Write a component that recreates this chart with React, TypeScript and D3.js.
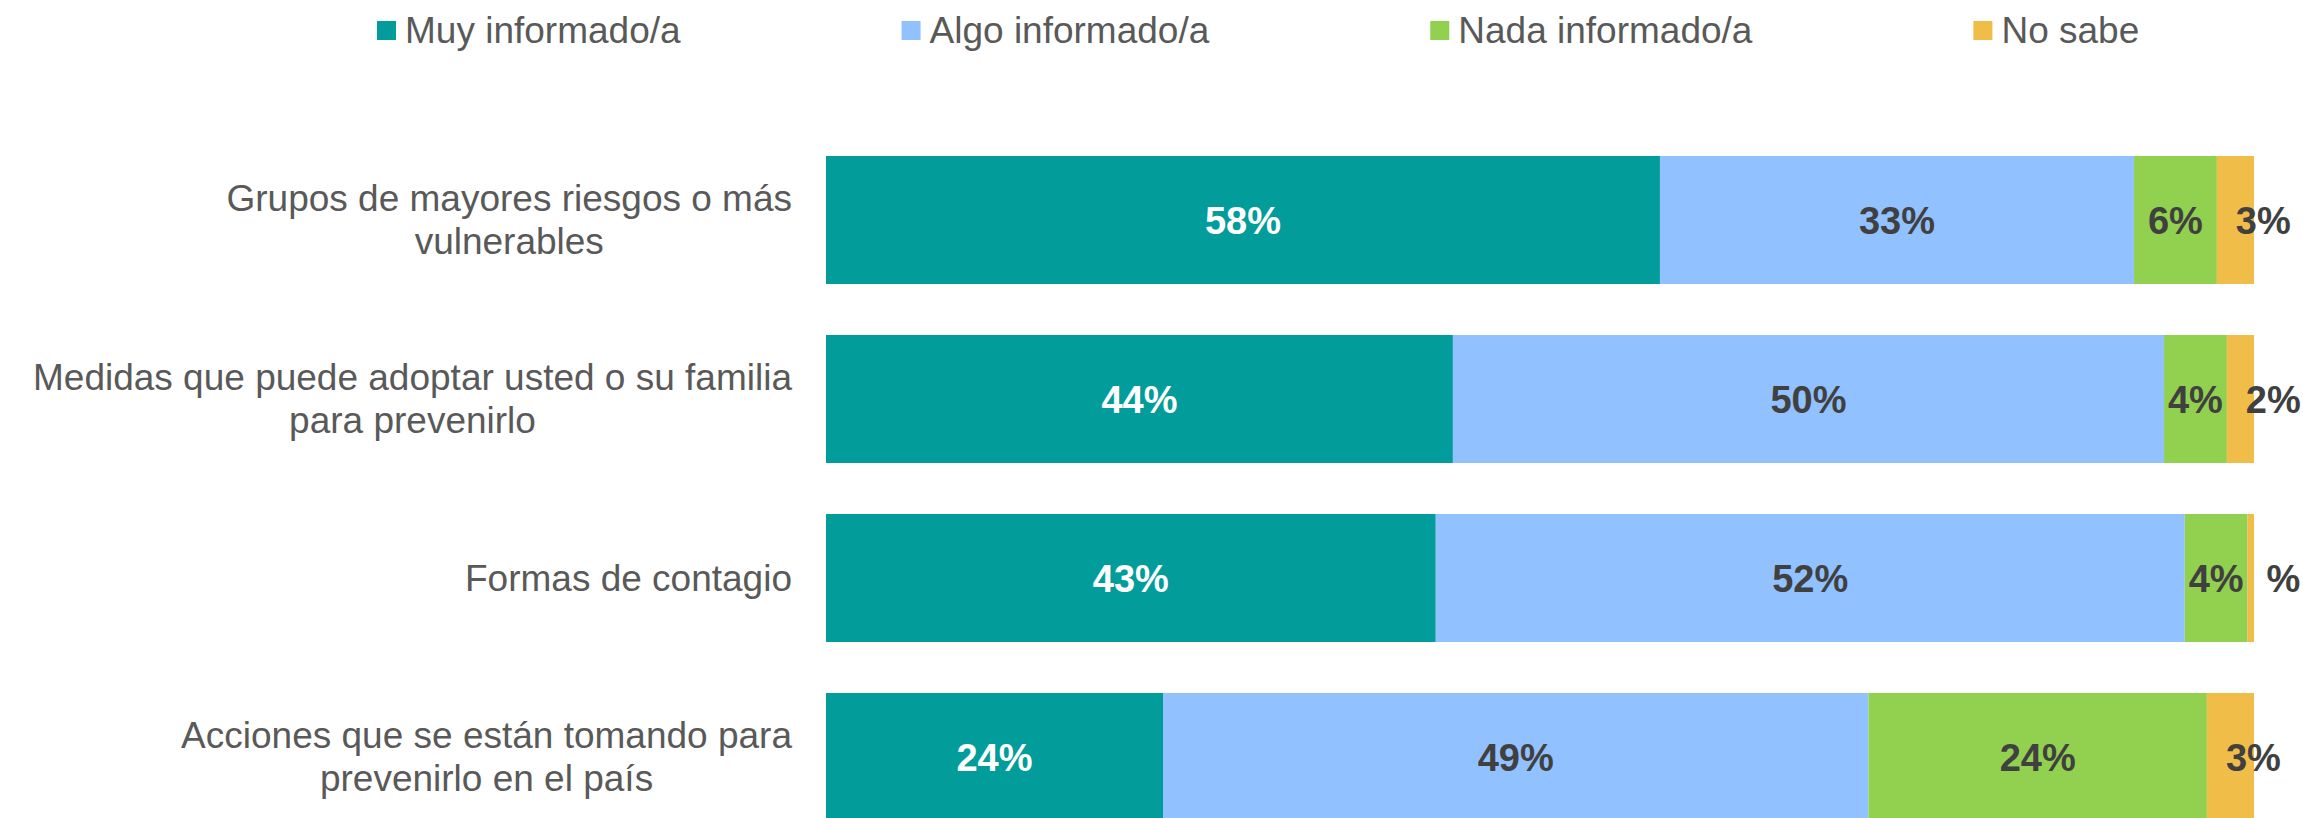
import React, { useEffect, useMemo } from 'react';
import * as d3 from 'd3';

const categoryLines: string[][] = [
  ['Grupos de mayores riesgos o más', 'vulnerables'],
  ['Medidas que puede adoptar usted o su familia', 'para prevenirlo'],
  ['Formas de contagio'],
  ['Acciones que se están tomando para', 'prevenirlo en el país'],
];
const categories = categoryLines.map((l) => l.join(' '));

const seriesNames = ['Muy informado/a', 'Algo informado/a', 'Nada informado/a', 'No sabe'];
const muyInformado = [58.4, 43.9, 42.7, 23.6];
const algoInformado = [33.2, 49.8, 52.45, 49.4];
const nadaInformado = [5.8, 4.4, 4.4, 23.7];
const noSabe = [2.6, 1.9, 0.45, 3.3];
const seriesColors = ['#029C9A', '#92C1FF', '#92D050', '#F0BD48'];
const labelColors = ['#FFFFFF', '#404040', '#404040', '#404040'];

const W = 2303;
const H = 818;
const FONT = "'Liberation Sans', Arial, sans-serif";
const FS = 37;
const LABEL_FS = 38;

export default function App() {
  useEffect(() => {
    document.body.style.margin = '0';
  }, []);

  const rows = categories.map((c, i) => ({
    cat: c,
    [seriesNames[0]]: muyInformado[i],
    [seriesNames[1]]: algoInformado[i],
    [seriesNames[2]]: nadaInformado[i],
    [seriesNames[3]]: noSabe[i],
  }));
  const stacked = d3.stack<any>().keys(seriesNames)(rows);

  const x = d3.scaleLinear().domain([0, 100]).range([826, 2254]);
  const y = d3
    .scaleBand<string>()
    .domain(categories)
    .range([130.5, 846.5])
    .paddingInner(0.285)
    .paddingOuter(0.1425);
  const bw = y.bandwidth();

  const measure = useMemo(() => {
    const cv = document.createElement('canvas');
    const ctx = cv.getContext('2d')!;
    ctx.font = `${FS}px ${FONT}`;
    return (s: string) => ctx.measureText(s).width;
  }, []);

  const legendItems: { name: string; x: number; color: string }[] = [];
  let lx = 377;
  seriesNames.forEach((s, i) => {
    legendItems.push({ name: s, x: lx, color: seriesColors[i] });
    lx += 19 + 9 + measure(s) + 221;
  });

  const fmt = (v: number) => {
    const r = Math.round(v);
    return r === 0 ? '%' : `${r}%`;
  };

  const labelRight = 792;

  return (
    <svg width={W} height={H} style={{ display: 'block', background: '#fff' }} fontFamily={FONT}>
      {/* legend */}
      <g>
        {legendItems.map((it) => (
          <g key={it.name}>
            <rect x={it.x} y={21} width={19} height={19} fill={it.color} />
            <text x={it.x + 28} y={43.3} fontSize={FS} fill="#595959">
              {it.name}
            </text>
          </g>
        ))}
      </g>
      {/* category labels */}
      <g>
        {categoryLines.map((lines, i) => {
          const cy = (y(categories[i]) as number) + bw / 2;
          const lh = 42.5;
          const top = cy - ((lines.length - 1) * lh) / 2;
          const maxW = Math.max(...lines.map((l) => measure(l)));
          const cx = labelRight - maxW / 2;
          return (
            <text key={i} fontSize={FS} fill="#595959" textAnchor="middle">
              {lines.map((ln, j) => (
                <tspan key={j} x={cx} y={top + j * lh + 12.5}>
                  {ln}
                </tspan>
              ))}
            </text>
          );
        })}
      </g>
      {/* bars */}
      {stacked.map((s, si) => (
        <g key={s.key} fill={seriesColors[si]}>
          {s.map((d, i) => (
            <rect
              key={i}
              x={x(d[0])}
              y={y(categories[i])}
              width={x(d[1]) - x(d[0])}
              height={bw}
            />
          ))}
        </g>
      ))}
      {/* data labels */}
      {stacked.map((s, si) => (
        <g key={'l' + s.key} fontSize={LABEL_FS} fontWeight="bold" fill={labelColors[si]}>
          {s.map((d, i) => {
            const cy = (y(categories[i]) as number) + bw / 2 + 13.5;
            const last = si === seriesNames.length - 1;
            return (
              <text
                key={i}
                x={last ? x(d[0]) + 19 : (x(d[0]) + x(d[1])) / 2}
                y={cy}
                textAnchor={last ? 'start' : 'middle'}
              >
                {fmt(d[1] - d[0])}
              </text>
            );
          })}
        </g>
      ))}
    </svg>
  );
}
